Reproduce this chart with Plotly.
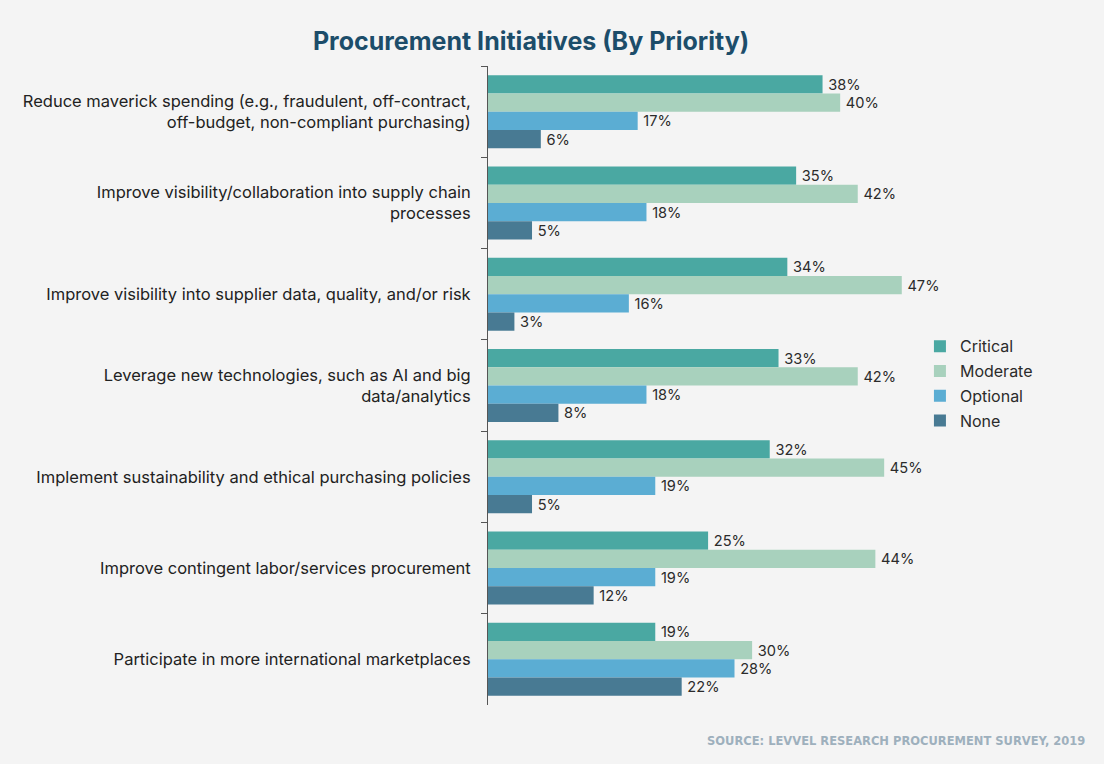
import plotly.graph_objects as go

categories = [
    "Reduce maverick spending (e.g., fraudulent, off-contract,<br>off-budget, non-compliant purchasing)",
    "Improve visibility/collaboration into supply chain<br>processes",
    "Improve visibility into supplier data, quality, and/or risk",
    "Leverage new technologies, such as AI and big<br>data/analytics",
    "Implement sustainability and ethical purchasing policies",
    "Improve contingent labor/services procurement",
    "Participate in more international marketplaces",
]
critical = [38, 35, 34, 33, 32, 25, 19]
moderate = [40, 42, 47, 42, 45, 44, 30]
optional = [17, 18, 16, 18, 19, 19, 28]
none_ = [6, 5, 3, 8, 5, 12, 22]

series = [
    ("Critical", critical, "#4aa8a2"),
    ("Moderate", moderate, "#a8d1bd"),
    ("Optional", optional, "#5badd3"),
    ("None", none_, "#487a93"),
]

FONT = "Inter, Open Sans, sans-serif"

fig = go.Figure()
for name, vals, col in series:
    fig.add_trace(go.Bar(
        y=categories, x=vals, name=name, orientation="h", legendgroup=name,
        marker=dict(color=col, line=dict(width=0)),
        text=[f"\u2009{v}%" for v in vals], textposition="outside",
        textfont=dict(size=16, color="#2b2b2b", family=FONT),
        cliponaxis=False,
    ))

fig.update_layout(
    width=1104, height=764,
    paper_bgcolor="#f4f4f4", plot_bgcolor="#f4f4f4",
    barmode="group", bargap=0.2, bargroupgap=0,
    margin=dict(l=488, r=167, t=66, b=59),
    font=dict(family=FONT, size=16, color="#222222"),
    title=dict(text="<b>Procurement Initiatives (By Priority)</b>", x=0.481, xanchor="center",
               y=0.946, yanchor="middle",
               font=dict(size=25, color="#1c4d6a", family=FONT)),
    legend=dict(x=0.962, xanchor="left", y=0.588, yanchor="top",
                font=dict(size=16, color="#2b2b2b"), bgcolor="rgba(0,0,0,0)",
                itemwidth=30, traceorder="grouped", tracegroupgap=1),
    showlegend=True,
)
fig.update_xaxes(range=[0, 51], visible=False, showgrid=False, zeroline=False)
fig.update_yaxes(autorange="reversed", showline=True, linecolor="#555555", linewidth=1,
                 ticks="outside", ticklen=6, tickcolor="#555555", tickson="boundaries",
                 showgrid=False, ticklabelstandoff=13,
                 tickfont=dict(size=16.5, color="#222222", family=FONT))

fig.add_annotation(text="<b>SOURCE: LEVVEL RESEARCH PROCUREMENT SURVEY, 2019</b>",
                   xref="paper", yref="paper", x=1.334, xanchor="right", y=-0.056, yanchor="middle",
                   showarrow=False,
                   font=dict(size=11.5, color="#9eb0bd", family="DejaVu Sans, sans-serif"))

fig.write_html("out.html", config={"displayModeBar": False},
               post_script="document.body.style.margin='0';document.body.style.background='#f4f4f4';")
